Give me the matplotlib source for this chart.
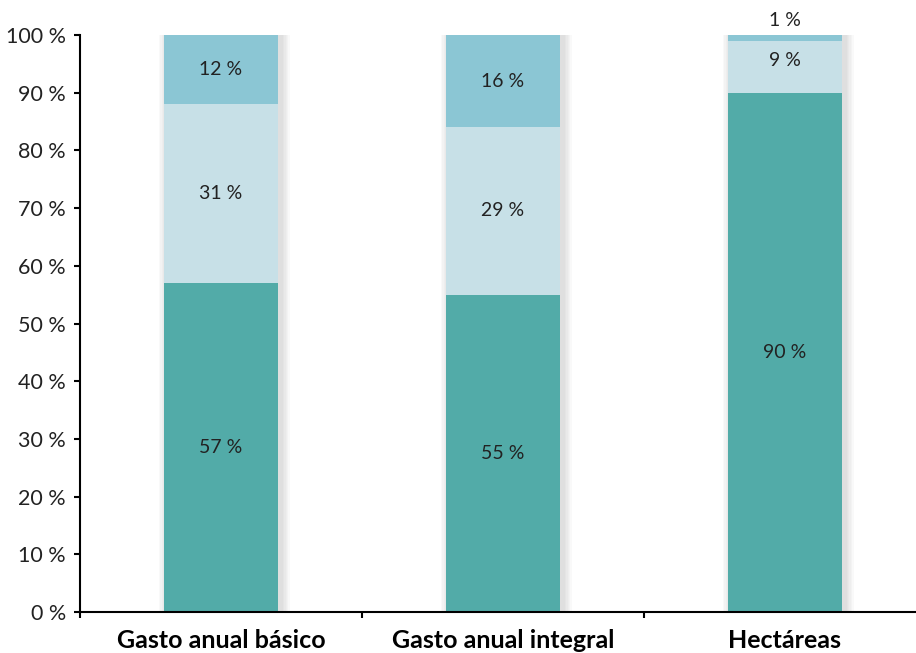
import matplotlib.pyplot as plt
import numpy as np

categories = ['Gasto anual básico', 'Gasto anual integral', 'Hectáreas']
bottom_vals = [57, 55, 90]
middle_vals = [31, 29, 9]
top_vals = [12, 16, 1]
yticks = np.arange(0, 101, 10)

c_bottom = '#52ABA8'
c_middle = '#C7E0E7'
c_top = '#8BC6D4'

plt.rcParams['font.family'] = ['Lato', 'DejaVu Sans']

fig = plt.figure(figsize=(9.16, 6.53), dpi=100)
ax = fig.add_axes([80 / 916, 1 - 612 / 653, 836 / 916, 577 / 653])

x = np.arange(len(categories))
width = 0.404
b = np.array(bottom_vals, dtype=float)
m = np.array(middle_vals, dtype=float)
t = np.array(top_vals, dtype=float)

# soft shadow: stacked translucent grey bars, shifted right, wider each step
for k in range(1, 7):
    ax.bar(x + 0.012, b + m + t, width + k * 0.01, color='#555555', alpha=0.03,
           linewidth=0, zorder=1)

ax.bar(x, b, width, color=c_bottom, zorder=2)
ax.bar(x, m, width, bottom=b, color=c_middle, zorder=2)
ax.bar(x, t, width, bottom=b + m, color=c_top, zorder=2)

for i in range(len(categories)):
    ax.text(x[i], b[i] / 2, f'{bottom_vals[i]} %', ha='center', va='center',
            fontsize=14, color='#222222', zorder=3)
    ax.text(x[i], b[i] + m[i] / 2 + (1 if top_vals[i] < 5 else 0), f'{middle_vals[i]} %',
            ha='center', va='center', fontsize=14, color='#222222', zorder=3)
    if top_vals[i] >= 5:
        ax.text(x[i], b[i] + m[i] + t[i] / 2, f'{top_vals[i]} %', ha='center', va='center',
                fontsize=14, color='#222222', zorder=3)
    else:
        ax.text(x[i], b[i] + m[i] + t[i] + 1.0, f'{top_vals[i]} %', ha='center', va='bottom',
                fontsize=14, color='#222222', zorder=3, clip_on=False)

ax.set_xlim(-0.5, 2.465)
ax.set_ylim(0, 100)
ax.set_yticks(yticks)
ax.set_yticklabels([f'{v} %' for v in yticks], fontsize=15.5, color='#222222')
ax.set_xticks([-0.5, 0.5, 1.5])
ax.set_xticklabels([])
ax.set_xticks(x, minor=True)
ax.set_xticklabels(categories, minor=True, fontsize=18, fontweight='bold')
ax.tick_params(axis='x', which='minor', length=0, pad=12)
ax.tick_params(axis='x', which='major', length=4, width=1.5, direction='out')
ax.tick_params(axis='y', length=4, width=1.5, direction='out', pad=6)

for s in ['top', 'right']:
    ax.spines[s].set_visible(False)
for s in ['left', 'bottom']:
    ax.spines[s].set_linewidth(1.5)
    ax.spines[s].set_color('black')

fig.savefig('out.png', dpi=100)
